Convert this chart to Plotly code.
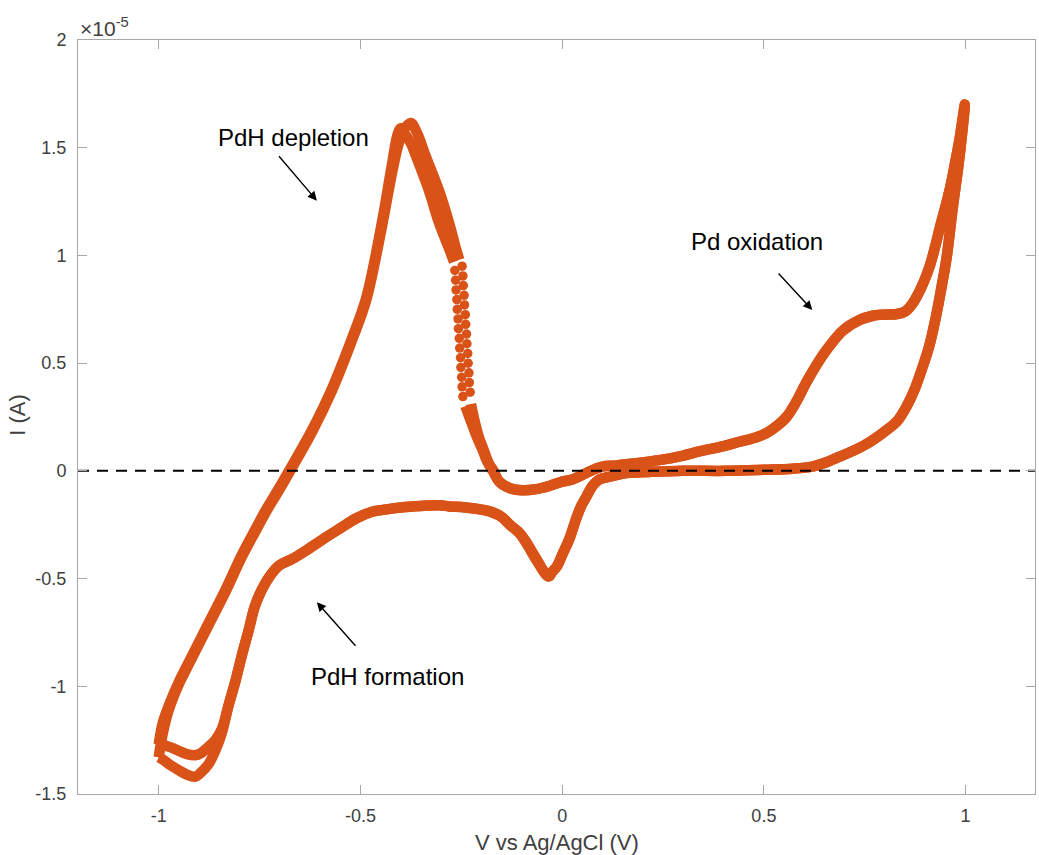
import plotly.graph_objects as go

# Current values are in units of 1e-5 A (axis exponent label "x10^-5")
# ---- Cycle 1 ----
c1_fwd_V = [-1.0, -0.99, -0.975, -0.95, -0.926, -0.88, -0.834, -0.794, -0.76, -0.734, -0.70, -0.677, -0.62, -0.571,
            -0.52, -0.486, -0.447, -0.422, -0.408, -0.40, -0.392, -0.375, -0.362, -0.33, -0.305, -0.28, -0.268]
c1_fwd_I = [-1.27, -1.17, -1.09, -0.98, -0.89, -0.72, -0.55, -0.39, -0.27, -0.18, -0.075, 0.0, 0.19, 0.38,
            0.62, 0.80, 1.15, 1.42, 1.56, 1.59, 1.57, 1.52, 1.46, 1.30, 1.15, 1.03, 0.97]
c1_dots_V = [-0.266, -0.264, -0.263, -0.261, -0.260, -0.258, -0.257, -0.255, -0.254, -0.252, -0.251, -0.249, -0.248, -0.246]
c1_dots_I = [0.93, 0.885, 0.84, 0.795, 0.75, 0.705, 0.66, 0.615, 0.57, 0.525, 0.48, 0.435, 0.39, 0.345]
c1_rest_V = [-0.24, -0.228, -0.212, -0.198, -0.185, -0.172, -0.156, -0.13, -0.099, -0.065,
             -0.032, 0.0, 0.025, 0.06, 0.084, 0.10, 0.134, 0.18, 0.24, 0.298,
             0.34, 0.40, 0.44, 0.48, 0.506, 0.53, 0.556, 0.58, 0.605, 0.63,
             0.655, 0.695, 0.737, 0.77, 0.794, 0.83, 0.85, 0.866, 0.882, 0.897,
             0.911, 0.923, 0.935, 0.96, 0.975, 0.985, 0.998, 0.985, 0.968, 0.953,
             0.94, 0.928, 0.91, 0.893, 0.874, 0.854, 0.83, 0.794, 0.75, 0.712,
             0.68, 0.655, 0.62, 0.571, 0.50, 0.407, 0.30, 0.216, 0.159, 0.134,
             0.11, 0.092, 0.075, 0.06, 0.048, 0.037, 0.017, 0.0, -0.012, -0.025,
             -0.032, -0.045, -0.057, -0.073, -0.089, -0.105, -0.124, -0.149, -0.175, -0.199,
             -0.24, -0.28, -0.305, -0.35, -0.40, -0.44, -0.471, -0.51, -0.553, -0.595,
             -0.635, -0.67, -0.702, -0.725, -0.744, -0.762, -0.777, -0.793, -0.809, -0.827,
             -0.844, -0.86, -0.876, -0.895, -0.91, -0.93, -0.95, -0.968, -0.99, -1.0]
c1_rest_I = [0.30, 0.24, 0.16, 0.10, 0.04, 0.0, -0.05, -0.08, -0.09, -0.085,
             -0.07, -0.05, -0.04, -0.01, 0.01, 0.02, 0.025, 0.035, 0.05, 0.07,
             0.09, 0.115, 0.135, 0.155, 0.175, 0.205, 0.25, 0.32, 0.41, 0.49,
             0.56, 0.65, 0.70, 0.72, 0.725, 0.728, 0.74, 0.77, 0.82, 0.88,
             0.95, 1.03, 1.12, 1.30, 1.44, 1.54, 1.70, 1.46, 1.22, 0.99,
             0.85, 0.73, 0.58, 0.48, 0.38, 0.30, 0.23, 0.175, 0.12, 0.085,
             0.06, 0.04, 0.02, 0.01, 0.005, 0.0, 0.0, -0.005, -0.01, -0.02,
             -0.03, -0.04, -0.07, -0.12, -0.16, -0.21, -0.32, -0.39, -0.44, -0.47,
             -0.49, -0.47, -0.43, -0.38, -0.33, -0.29, -0.26, -0.215, -0.19, -0.18,
             -0.17, -0.165, -0.16, -0.163, -0.17, -0.18, -0.19, -0.22, -0.27, -0.32,
             -0.37, -0.41, -0.44, -0.49, -0.55, -0.63, -0.74, -0.85, -0.97, -1.09,
             -1.2, -1.25, -1.28, -1.31, -1.32, -1.315, -1.30, -1.285, -1.27, -1.26]

# ---- Cycle 2 ----
c2_fwd_V = [-1.0, -0.99, -0.975, -0.95, -0.926, -0.88, -0.834, -0.794, -0.76, -0.734, -0.70, -0.677, -0.62, -0.571,
            -0.52, -0.486, -0.447, -0.422, -0.405, -0.39, -0.375, -0.36, -0.338, -0.305, -0.28, -0.263, -0.255]
c2_fwd_I = [-1.33, -1.22, -1.11, -0.99, -0.90, -0.73, -0.56, -0.40, -0.28, -0.19, -0.085, -0.01, 0.18, 0.37,
            0.61, 0.79, 1.13, 1.38, 1.52, 1.59, 1.615, 1.57, 1.46, 1.30, 1.15, 1.03, 0.98]
c2_dots_V = [-0.248, -0.246, -0.245, -0.243, -0.242, -0.240, -0.239, -0.237, -0.236, -0.234, -0.233, -0.231, -0.230, -0.228]
c2_dots_I = [0.95, 0.905, 0.86, 0.815, 0.77, 0.725, 0.68, 0.635, 0.59, 0.545, 0.50, 0.455, 0.41, 0.365]
c2_rest_V = [-0.226, -0.218, -0.207, -0.195, -0.183, -0.17, -0.156, -0.13, -0.099, -0.065,
             -0.032, 0.0, 0.025, 0.06, 0.084, 0.10, 0.134, 0.18, 0.24, 0.298,
             0.34, 0.40, 0.44, 0.48, 0.506, 0.53, 0.556, 0.58, 0.605, 0.63,
             0.655, 0.695, 0.737, 0.77, 0.794, 0.83, 0.85, 0.866, 0.882, 0.897,
             0.911, 0.923, 0.935, 0.96, 0.975, 0.985, 0.998, 0.985, 0.968, 0.953,
             0.94, 0.928, 0.91, 0.893, 0.874, 0.854, 0.83, 0.794, 0.75, 0.712,
             0.68, 0.655, 0.62, 0.571, 0.50, 0.407, 0.30, 0.216, 0.159, 0.134,
             0.11, 0.092, 0.075, 0.06, 0.048, 0.037, 0.017, 0.0, -0.012, -0.025,
             -0.035, -0.048, -0.062, -0.078, -0.094, -0.11, -0.13, -0.153, -0.178, -0.2,
             -0.24, -0.28, -0.305, -0.35, -0.40, -0.44, -0.471, -0.51, -0.553, -0.595,
             -0.635, -0.67, -0.702, -0.725, -0.744, -0.762, -0.777, -0.793, -0.809, -0.827,
             -0.844, -0.86, -0.876, -0.895, -0.91, -0.93, -0.95, -0.968, -0.99, -1.0]
c2_rest_I = [0.31, 0.24, 0.16, 0.10, 0.04, 0.0, -0.05, -0.08, -0.09, -0.085,
             -0.07, -0.05, -0.04, -0.01, 0.01, 0.02, 0.025, 0.035, 0.05, 0.07,
             0.09, 0.115, 0.135, 0.155, 0.175, 0.205, 0.25, 0.32, 0.41, 0.49,
             0.56, 0.65, 0.70, 0.72, 0.725, 0.728, 0.74, 0.77, 0.82, 0.88,
             0.95, 1.03, 1.12, 1.30, 1.44, 1.54, 1.70, 1.46, 1.22, 0.99,
             0.85, 0.73, 0.58, 0.48, 0.38, 0.30, 0.23, 0.175, 0.12, 0.085,
             0.06, 0.04, 0.02, 0.01, 0.005, 0.0, 0.0, -0.005, -0.01, -0.02,
             -0.03, -0.04, -0.07, -0.12, -0.16, -0.21, -0.32, -0.39, -0.44, -0.47,
             -0.49, -0.46, -0.42, -0.37, -0.32, -0.28, -0.25, -0.21, -0.19, -0.18,
             -0.17, -0.165, -0.16, -0.163, -0.17, -0.18, -0.19, -0.22, -0.27, -0.32,
             -0.37, -0.41, -0.44, -0.49, -0.55, -0.63, -0.74, -0.85, -0.97, -1.09,
             -1.22, -1.30, -1.36, -1.40, -1.42, -1.41, -1.39, -1.37, -1.34, -1.33]

x_ticks = [-1, -0.5, 0, 0.5, 1]
x_tick_text = ["-1", "-0.5", "0", "0.5", "1"]
y_ticks = [-1.5, -1, -0.5, 0, 0.5, 1, 1.5, 2]
y_tick_text = ["-1.5", "-1", "-0.5", "0", "0.5", "1", "1.5", "2"]

ORANGE = "#D95319"
FONT = "Liberation Sans, Arial, Helvetica, sans-serif"

fig = go.Figure()
for fv, fi, dv, di, rv, ri in [
    (c1_fwd_V, c1_fwd_I, c1_dots_V, c1_dots_I, c1_rest_V, c1_rest_I),
    (c2_fwd_V, c2_fwd_I, c2_dots_V, c2_dots_I, c2_rest_V, c2_rest_I),
]:
    fig.add_trace(go.Scatter(x=fv, y=fi, mode="lines",
                             line=dict(color=ORANGE, width=10.5, shape="spline", smoothing=1.0)))
    fig.add_trace(go.Scatter(x=dv, y=di, mode="markers",
                             marker=dict(color=ORANGE, size=9.5, line=dict(width=0))))
    fig.add_trace(go.Scatter(x=rv, y=ri, mode="lines",
                             line=dict(color=ORANGE, width=10.5, shape="spline", smoothing=1.0)))

# zero reference line
fig.add_trace(go.Scatter(x=[-1.2, 1.172], y=[0, 0], mode="lines",
                         line=dict(color="black", width=2, dash="11px,8px")))

axis_common = dict(showline=True, linecolor="#a8a8a8", linewidth=1, mirror="ticks",
                   ticks="inside", ticklen=9, tickcolor="#a8a8a8", tickwidth=1,
                   showgrid=False, zeroline=False,
                   tickfont=dict(family=FONT, size=18, color="#404040"))

fig.update_xaxes(range=[-1.2, 1.172], tickvals=x_ticks, ticktext=x_tick_text,
                 ticklabelstandoff=5, **axis_common)
fig.update_yaxes(range=[-1.5, 2], tickvals=y_ticks, ticktext=y_tick_text,
                 ticklabelstandoff=7, **axis_common)

ann_font = dict(family=FONT, size=24, color="black")
arrow_style = dict(showarrow=True, arrowhead=2, arrowsize=1.3, arrowwidth=1.4, arrowcolor="black",
                   axref="x", ayref="y", text="")
annotations = [
    dict(x=-0.665, y=1.546, text="PdH depletion", showarrow=False, font=ann_font),
    dict(x=0.484, y=1.063, text="Pd oxidation", showarrow=False, font=ann_font),
    dict(x=-0.434, y=-0.953, text="PdH formation", showarrow=False, font=ann_font),
    dict(x=-0.608, y=1.254, ax=-0.705, ay=1.467, **arrow_style),
    dict(x=0.62, y=0.747, ax=0.533, ay=0.923, **arrow_style),
    dict(x=-0.608, y=-0.61, ax=-0.509, ay=-0.819, **arrow_style),
    dict(xref="paper", yref="paper", x=0.0, y=0.997, xanchor="left", yanchor="bottom",
         text="×10<sup>-5</sup>", showarrow=False, font=dict(family=FONT, size=21, color="#404040")),
    dict(xref="paper", yref="paper", x=-0.0627, y=0.503, xanchor="center", yanchor="middle",
         text="I (A)", textangle=-90, showarrow=False, font=dict(family=FONT, size=22, color="#404040")),
    dict(xref="paper", yref="paper", x=0.5, y=-0.064, xanchor="center", yanchor="middle",
         text="V vs Ag/AgCl (V)", showarrow=False, font=dict(family=FONT, size=22, color="#404040")),
]

fig.update_layout(width=1039, height=855, margin=dict(l=78, r=4, t=40, b=61),
                  paper_bgcolor="white", plot_bgcolor="white", showlegend=False,
                  annotations=annotations)

fig.write_html("out.html")
